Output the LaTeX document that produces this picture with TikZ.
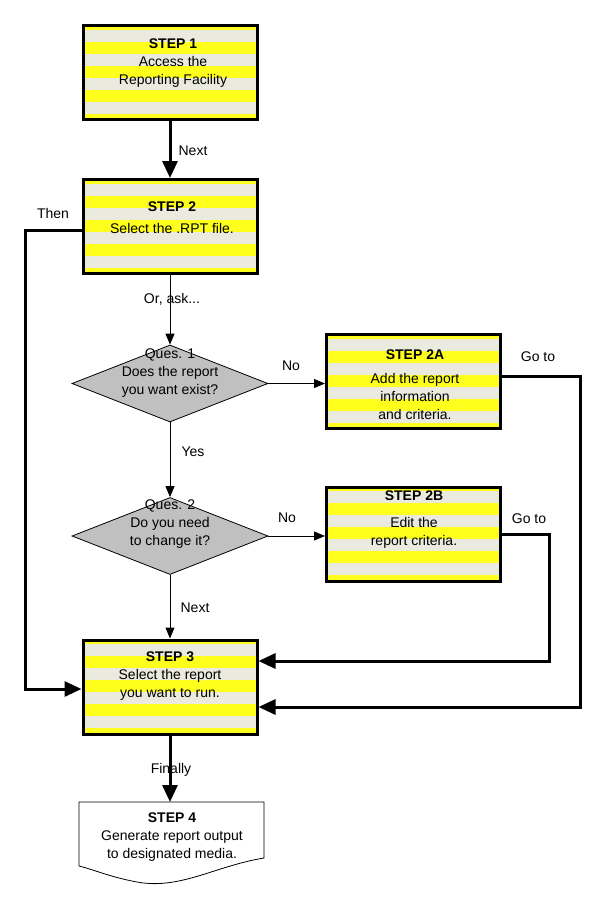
\documentclass[tikz,border=0pt]{standalone}
\usepackage{fontspec}
\setmainfont{Liberation Sans}
\usetikzlibrary{shapes.geometric,arrows.meta,calc}
\definecolor{bandyellow}{RGB}{255,255,30}
\definecolor{bandgray}{RGB}{234,234,222}
\definecolor{diagray}{RGB}{192,192,192}
\tikzset{
  stepbox/.style={draw, line width=3pt, fill=bandyellow, minimum width=174pt, minimum height=94pt, inner sep=0pt,
    path picture={\foreach \k in {0,...,4}{\fill[bandgray] ([yshift={-4pt-\k*24pt}]path picture bounding box.north west) rectangle ++(200pt,-12pt);}}},
  ques/.style={draw, line width=0.8pt, fill=diagray, diamond, minimum width=196pt, minimum height=77pt, inner sep=0pt},
  txt/.style={align=center, font=\fontsize{14}{18}\selectfont, inner sep=0pt},
  lbl/.style={font=\fontsize{14}{16}\selectfont, inner sep=0pt},
  thickline/.style={line width=3pt, -{Triangle[length=17pt,width=15pt]}},
  thinline/.style={line width=1pt, -{Triangle[length=11pt,width=9pt]}},
}
\begin{document}
\begin{tikzpicture}[x=1pt,y=-1pt]
\useasboundingbox (0,0) rectangle (604,908);
% boxes
\node[stepbox] (s1) at (170,72.5) {};
\node[txt] (t1) at (173,63) {\textbf{STEP 1}\\Access the\\Reporting Facility};
\node[stepbox] (s2) at (170,226.5) {};
\node[txt] (t2) at (172,218) {\textbf{STEP 2}\\[4pt]Select the .RPT file.};
\node[ques] (d1) at (170,383.5) {};
\node[txt] (td1) at (170,373.5) {Ques. 1\\Does the report\\you want exist?};
\node[stepbox] (s2a) at (413.5,381.5) {};
\node[txt] (t2a) at (415,384.5) {\textbf{STEP 2A}\\[6pt]Add the report\\information\\and criteria.};
\node[ques] (d2) at (170,536) {};
\node[txt] (td2) at (170,524) {Ques. 2\\Do you need\\to change it?};
\node[stepbox] (s2b) at (413.5,534) {};
\node[txt] (t2b) at (414,520) {\textbf{STEP 2B}\\[9pt]Edit the\\report criteria.};
\node[stepbox] (s3) at (170,687) {};
\node[txt] (t3) at (170,676) {\textbf{STEP 3}\\Select the report\\you want to run.};
% step 4 document shape
\draw[line width=0.8pt, fill=white] (79,802) -- (264,802) -- (264,858)
  .. controls (215,866) and (180,890) .. (137,882)
  .. controls (110,877) and (95,870) .. (79,866) -- cycle;
\coordinate (s4top) at (170,802);
\node[txt] (t4) at (172,837) {\textbf{STEP 4}\\Generate report output\\to designated media.};
% connectors
\draw[thickline] (s1.south) -- (s2.north);
\node[lbl] at (193,151) {Next};
\coordinate (leftx) at (25,0);
\draw[thickline] ($(s2.west)+(0,4)$) -- ($(s2.west -| leftx)+(0,4)$) |- ($(s3.west)+(0,2)$);
\node[lbl] at (53,213) {Then};
\draw[thinline] (s2.south) -- (d1.north);
\node[lbl] at (172,299) {Or, ask...};
\draw[thinline] (d1.east) -- (d1.east -| s2a.west);
\node[lbl] at (291,366) {No};
\coordinate (rx1) at (580,0);
\draw[thickline] ($(s2a.east)+(0,-5)$) -- ($(s2a.east -| rx1)+(0,-5)$) |- ($(s3.east)+(0,20)$);
\node[lbl] at (538,357) {Go to};
\draw[thinline] (d1.south) -- (d2.north);
\node[lbl] at (193,452) {Yes};
\draw[thinline] (d2.east) -- (d2.east -| s2b.west);
\node[lbl] at (287,518) {No};
\coordinate (rx2) at (549,0);
\draw[thickline] (s2b.east) -- (s2b.east -| rx2) |- ($(s3.east)+(0,-26)$);
\node[lbl] at (529,519) {Go to};
\draw[thinline] (d2.south) -- (s3.north);
\node[lbl] at (195,608) {Next};
\draw[thickline] (s3.south) -- (s4top);
\node[lbl] at (171,770) {Finally};
\end{tikzpicture}
\end{document}
